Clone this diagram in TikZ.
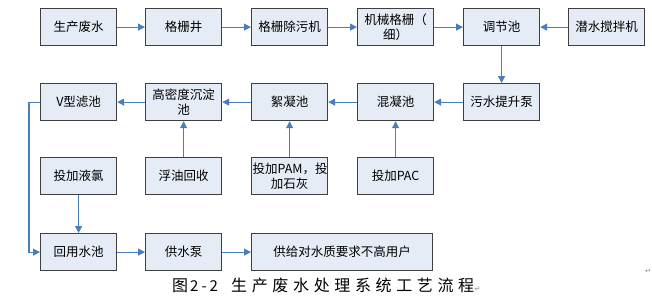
\documentclass[tikz,border=0pt]{standalone}
\usepackage{fontspec}
\setmainfont{Noto Sans CJK SC}
\newfontfamily\capfont[LetterSpace=29]{Noto Sans CJK SC}
\newfontfamily\numfont[LetterSpace=20]{Noto Sans CJK SC}
\newfontfamily\symfont{DejaVu Sans}
\usetikzlibrary{arrows.meta}
\definecolor{boxfill}{HTML}{E6ECF6}
\definecolor{boxline}{HTML}{3F3F3F}
\definecolor{arrowblue}{HTML}{4A7EBB}
\begin{document}
\begin{tikzpicture}[x=1pt,y=-1pt,
  stepbox/.style={draw=boxline,line width=1.2pt,fill=boxfill,minimum width=76pt,minimum height=37pt,inner sep=1pt,align=center,font=\fontsize{12.5}{15}\selectfont,anchor=north west,text width=74pt},
  flow/.style={draw=arrowblue,line width=1.1pt,-{Triangle[length=7pt,width=7pt]}},
  captext/.style={inner sep=0pt,anchor=base west}]
\useasboundingbox (0,0) rectangle (652,305);
% row 1
\node[stepbox] (a1) at (40,8) {生产废水};
\node[stepbox] (a2) at (145,8) {格栅井};
\node[stepbox] (a3) at (251,8) {格栅除污机};
\node[stepbox] (a4) at (357,8) {机械格栅（\\细）};
\node[stepbox] (a5) at (463,8) {调节池};
\node[stepbox] (a6) at (568,8) {潜水搅拌机};
% row 2
\node[stepbox] (b1) at (40,83) {V型滤池};
\node[stepbox] (b2) at (145,83) {高密度沉淀\\池};
\node[stepbox] (b3) at (251,83) {絮凝池};
\node[stepbox] (b4) at (357,83) {混凝池};
\node[stepbox] (b5) at (463,83) {污水提升泵};
% row 3
\node[stepbox] (c1) at (40,157) {投加液氯};
\node[stepbox] (c2) at (145,157) {浮油回收};
\node[stepbox] (c3) at (251,157) {投加PAM，投\\加石灰};
\node[stepbox] (c4) at (357,157) {投加PAC};
% row 4
\node[stepbox] (d1) at (40,233) {回用水池};
\node[stepbox] (d2) at (145,233) {供水泵};
\node[stepbox,minimum width=181pt,text width=179pt] (d3) at (251,233) {供给对水质要求不高用户};
% connectors
\draw[flow] (a1) -- (a2);
\draw[flow] (a2) -- (a3);
\draw[flow] (a3) -- (a4);
\draw[flow] (a4) -- (a5);
\draw[flow] (a6) -- (a5);
\draw[flow] (a5) -- (b5);
\draw[flow] (b5) -- (b4);
\draw[flow] (b4) -- (b3);
\draw[flow] (b3) -- (b2);
\draw[flow] (b2) -- (b1);
\draw[flow] (c2) -- (b2);
\draw[flow] (c3) -- (b3);
\draw[flow] (c4) -- (b4);
\draw[flow] (c1) -- (d1);
\coordinate (bend) at (29,0);
\draw[flow] (b1.west) -- (b1.west -| bend) -- (d1.west -| bend) -- (d1.west);
\draw[flow] (d1) -- (d2);
\draw[flow] (d2) -- (d3);
% caption
\node[captext,font=\fontsize{16}{18}\selectfont\capfont] (capa) at (172,291) {图};
\node[captext,font=\fontsize{15}{18}\selectfont\numfont] (capb) at (190,291) {2-2};
\node[captext,font=\fontsize{16}{18}\selectfont\capfont] (capc) at (231,291) {生产废水处理系统工艺流程};
\node[captext,font=\symfont\fontsize{7}{8}\selectfont,text=gray] (pm1) at (capc.base east) {↵};
\node[font=\symfont\fontsize{7}{8}\selectfont,text=gray,inner sep=0pt] (pm2) at (648,271) {↵};
\end{tikzpicture}
\end{document}
